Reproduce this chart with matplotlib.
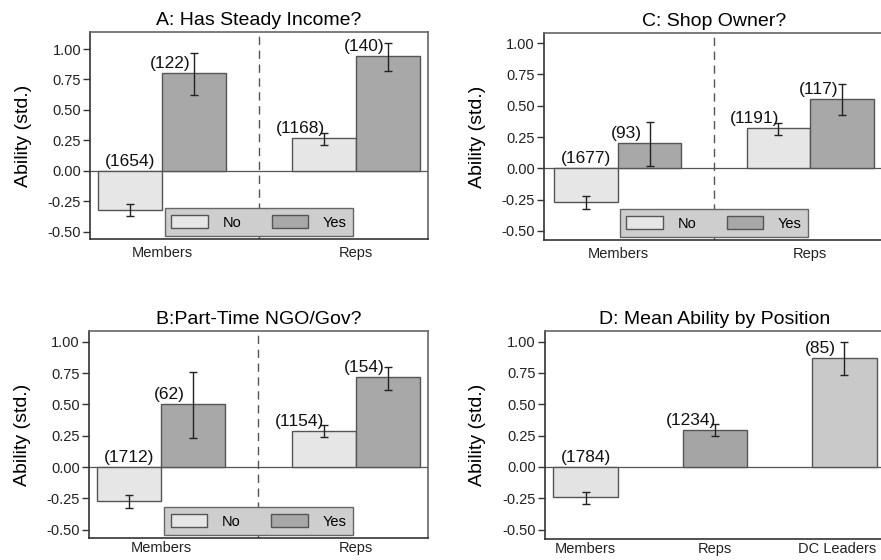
import matplotlib
matplotlib.use("Agg")
import matplotlib.pyplot as plt
import matplotlib.transforms as mtransforms
from matplotlib.patches import Patch
import numpy as np

plt.rcParams['font.family'] = ['Liberation Sans', 'DejaVu Sans']

# Panel data: mean ability, CI low, CI high, counts (No / Yes per group)
GROUPS = ["Members", "Reps"]

A_NO = [-0.32, 0.27]
A_NO_LO = [-0.37, 0.215]
A_NO_HI = [-0.27, 0.31]
A_NO_N = [1654, 1168]
A_YES = [0.80, 0.94]
A_YES_LO = [0.625, 0.82]
A_YES_HI = [0.965, 1.05]
A_YES_N = [122, 140]

B_NO = [-0.27, 0.29]
B_NO_LO = [-0.327, 0.242]
B_NO_HI = [-0.226, 0.333]
B_NO_N = [1712, 1154]
B_YES = [0.505, 0.716]
B_YES_LO = [0.231, 0.614]
B_YES_HI = [0.758, 0.803]
B_YES_N = [62, 154]

C_NO = [-0.27, 0.32]
C_NO_LO = [-0.325, 0.263]
C_NO_HI = [-0.22, 0.36]
C_NO_N = [1677, 1191]
C_YES = [0.20, 0.553]
C_YES_LO = [0.018, 0.425]
C_YES_HI = [0.367, 0.673]
C_YES_N = [93, 117]

D_POS = ["Members", "Reps", "DC Leaders"]
D_MEAN = [-0.242, 0.298, 0.87]
D_LO = [-0.293, 0.25, 0.737]
D_HI = [-0.2, 0.34, 0.998]
D_N = [1784, 1234, 85]

YTICKS = [-0.50, -0.25, 0.00, 0.25, 0.50, 0.75, 1.00]

NO_COL = "#e6e6e6"
YES_COL = "#a8a8a8"
D_COLS = ["#e3e3e3", "#a5a5a5", "#c9c9c9"]
EDGE = "#555555"


def count_label(ax, x, mean, n, width):
    # labels sit just above the bar top (or zero line for negative bars)
    if mean > 0:
        xx, yy = x - 0.37 * width, mean
    else:
        xx, yy = x, 0
    ax.annotate(f"({n})", (xx, yy), xytext=(0, 1.5), textcoords="offset points",
                ha="center", va="bottom", fontsize=12.5, color="#111111")


def style_axes(ax, title, ylim, xlim, xpad=5):
    ax.set_ylim(ylim)
    ax.set_xlim(xlim)
    ax.set_yticks(YTICKS)
    ax.set_yticklabels([f"{t:.2f}" for t in YTICKS])
    ax.axhline(0, color=EDGE, lw=0.9, zorder=1)
    for s in ax.spines.values():
        s.set_color("#666666")
        s.set_linewidth(1.2)
    ax.spines['left'].set_color("#333333")
    ax.spines['bottom'].set_color("#333333")
    ax.tick_params(axis="y", length=5, width=1, color="#333333", labelsize=10.5, pad=1.5, labelcolor="#222222")
    ax.tick_params(axis="x", length=0, labelsize=10.5, pad=xpad, labelcolor="#222222")
    ax.set_title(title, fontsize=14, pad=5)
    ax.set_ylabel("Ability (std.)", fontsize=14)
    ax.yaxis.set_label_coords(-0.172, 0.5)


def grouped_panel(ax, title, ylim, xlim, no, no_lo, no_hi, no_n, yes, yes_lo, yes_hi, yes_n, xpad=5):
    x = np.arange(1, len(GROUPS) + 1)
    w = 0.33
    ax.axvline(1.5, color=EDGE, lw=1, ls=(0, (6, 4)), zorder=0)
    for offs, vals, lo, hi, ns, col in [(-w / 2, no, no_lo, no_hi, no_n, NO_COL),
                                        (w / 2, yes, yes_lo, yes_hi, yes_n, YES_COL)]:
        vals = np.array(vals)
        err = [vals - np.array(lo), np.array(hi) - vals]
        ax.bar(x + offs, vals, w, color=col, edgecolor=EDGE, lw=1, zorder=2)
        ax.errorbar(x + offs, vals, yerr=err, fmt="none", ecolor="#222222",
                    elinewidth=1, capsize=3, capthick=1, zorder=3)
        for xi, v, n in zip(x + offs, vals, ns):
            count_label(ax, xi, v, n, w)
    ax.set_xticks(x)
    ax.set_xticklabels(GROUPS)
    style_axes(ax, title, ylim, xlim, xpad)
    handles = [Patch(facecolor=NO_COL, edgecolor=EDGE, lw=1, label="No"),
               Patch(facecolor=YES_COL, edgecolor=EDGE, lw=1, label="Yes")]
    leg = ax.legend(handles=handles, loc="lower center", bbox_to_anchor=(0.5, 0.0), ncol=2,
                    fontsize=10.5, handlelength=2.5, handleheight=1.05, handletextpad=1.0,
                    columnspacing=2.1, borderpad=0.45, borderaxespad=0.2,
                    fancybox=False, framealpha=1)
    leg.get_frame().set_facecolor("#cecece")
    leg.get_frame().set_edgecolor("#666666")
    leg.get_frame().set_linewidth(1)
    leg.set_zorder(5)


fig = plt.figure(figsize=(8.81, 5.6), dpi=100)
axA = fig.add_axes([0.1022, 0.5732, 0.3837, 0.3696])
axC = fig.add_axes([0.6175, 0.5714, 0.3860, 0.3696])
axB = fig.add_axes([0.1010, 0.0393, 0.3848, 0.3696])
axD = fig.add_axes([0.6186, 0.0375, 0.3860, 0.3714])

grouped_panel(axA, "A: Has Steady Income?", (-0.561, 1.14), (0.63, 2.37),
              A_NO, A_NO_LO, A_NO_HI, A_NO_N, A_YES, A_YES_LO, A_YES_HI, A_YES_N)
grouped_panel(axC, "C: Shop Owner?", (-0.572, 1.08), (0.616, 2.384),
              C_NO, C_NO_LO, C_NO_HI, C_NO_N, C_YES, C_YES_LO, C_YES_HI, C_YES_N)
grouped_panel(axB, "B:Part-Time NGO/Gov?", (-0.567, 1.087), (0.63, 2.37),
              B_NO, B_NO_LO, B_NO_HI, B_NO_N, B_YES, B_YES_LO, B_YES_HI, B_YES_N, xpad=2.5)

# Panel D: mean ability by position
xd = np.arange(1, len(D_POS) + 1)
wd = 0.5
dm = np.array(D_MEAN)
axD.bar(xd, dm, wd, color=D_COLS, edgecolor=EDGE, lw=1, zorder=2)
axD.errorbar(xd, dm, yerr=[dm - np.array(D_LO), np.array(D_HI) - dm], fmt="none",
             ecolor="#222222", elinewidth=1, capsize=3, capthick=1, zorder=3)
for xi, v, n in zip(xd, dm, D_N):
    count_label(axD, xi, v, n, wd)
axD.set_xticks(xd)
axD.set_xticklabels(D_POS)
style_axes(axD, "D: Mean Ability by Position", (-0.575, 1.085), (0.686, 3.314), xpad=2.5)

# nudge the last tick label left so it stays inside the figure
last = axD.get_xticklabels()[-1]
last.set_transform(last.get_transform() + mtransforms.ScaledTranslation(-5 / 72, 0, fig.dpi_scale_trans))

fig.savefig("out.png", dpi=100)
